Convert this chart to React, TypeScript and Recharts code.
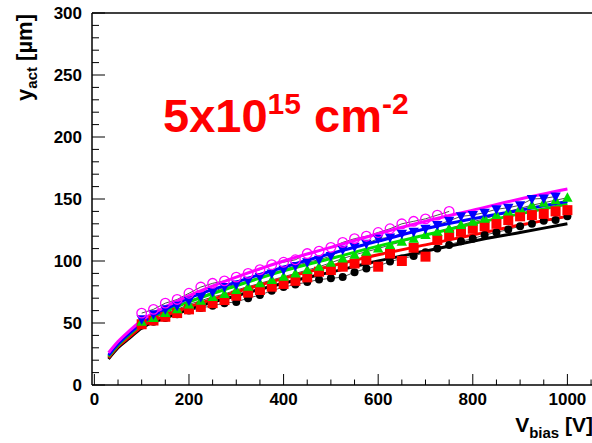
import React from "react";
import {
  ComposedChart,
  Scatter,
  Line,
  XAxis,
  YAxis,
  ReferenceLine,
} from "recharts";

// bias voltage points (V)
const vbias = [
  100, 125, 150, 175, 200, 225, 250, 275, 300, 325, 350, 375, 400, 425, 450, 475, 500, 525, 550,
  575, 600, 625, 650, 675, 700, 725, 750, 775, 800, 825, 850, 875, 900, 925, 950, 975, 1000,
];

// measured active depth (um), one array per series
const blackVals = [
  48, 51, 54, 57, 60, 62, 64, 66, 67, 70, 72.6, 76, 79, 81, 83, 85, 86, 87, 91, 94, 96, 99.5, 102,
  104, 107, 110, 113, 116, 118, 121, 123, 125.5, 128, 130, 132.5, 133, 136,
];
const redVals = [
  49, 52, 55, 58, 61, 63, 66, 68.5, 72, 74.5, 76.6, 79.3, 81.5, 84, 86.8, 91.4, 92.7, 95.4, 98, 101,
  95.4, 106, 100, 110.7, 103.5, 117, 121, 123.6, 126, 128, 130, 133, 136, 137, 138, 140, 141,
];
const greenVals = [
  51, 54, 58, 61, 65, 68, 71, 73.4, 76.6, 79.3, 82, 84.7, 87.3, 90, 92.7, 95.4, 98.6, 102, 105,
  107.5, 110, 113, 115.5, 118, 121, 123.6, 126, 129, 131.7, 134, 137, 140, 142.5, 145, 147, 149, 151,
];
const blueVals = [
  53, 57, 61, 64, 68, 71, 75, 79, 81, 84, 87, 90, 93, 96, 99, 101, 104, 109, 111.5, 114, 118, 119,
  122, 123.6, 126, 129, 132.5, 136, 137, 139, 141.7, 143, 145, 150, 150.5, 152, null,
];
const magentaVals = [
  58, 61, 66, 69, 74, 79, 82, 84, 87, 90, 93, 97, 99, 101, 106, 108, 111, 115, 118, 120, 123, 126,
  130, 132, 134, 137, 140, null, null, null, null, null, null, null, null, null, null,
];

// fitted curves
const fitV = [30, 50, 75, 100, 150, 200, 300, 400, 500, 600, 700, 800, 900, 1000];
const fitBlack = [21, 30, 38, 46, 54, 61, 72, 82, 91, 100, 108, 116, 123, 130];
const fitRed = [22, 31, 39, 47, 56, 63, 75, 86, 96, 105, 113, 121, 129, 136];
const fitGreen = [23, 32, 41, 49, 59, 67, 80, 92, 102, 112, 121, 130, 138, 146];
const fitBlue = [24, 33, 42, 50, 61, 70, 83, 95, 106, 116, 126, 134, 141, 148];
const fitMagenta = [26, 35, 44, 52, 63, 72, 87, 100, 111, 122, 132, 141, 150, 158];

const xTicks = Array.from({ length: 22 }, (_, i) => i * 50);
const yTicks = Array.from({ length: 31 }, (_, i) => i * 10);

const FONT = "'Liberation Sans', Arial, Helvetica, sans-serif";

const toPts = (vals: (number | null)[]) =>
  vbias.map((v, i) => ({ v, y: vals[i] })).filter((p) => p.y != null);
const toFit = (vals: number[]) => fitV.map((v, i) => ({ v, y: vals[i] }));

const BlackDot = ({ cx, cy }: any) => <circle cx={cx} cy={cy} r={4} fill="#000" />;
const RedSquare = ({ cx, cy }: any) => (
  <rect x={cx - 5} y={cy - 5} width={10} height={10} fill="#ff0000" />
);
const GreenUp = ({ cx, cy }: any) => (
  <polygon points={`${cx},${cy - 5.5} ${cx - 5.2},${cy + 4} ${cx + 5.2},${cy + 4}`} fill="#00dd00" />
);
const BlueDown = ({ cx, cy }: any) => (
  <polygon points={`${cx},${cy + 5.5} ${cx - 5.2},${cy - 4} ${cx + 5.2},${cy - 4}`} fill="#0000ff" />
);
const MagentaRing = ({ cx, cy }: any) => (
  <circle cx={cx} cy={cy} r={4.8} fill="none" stroke="#ff00ff" strokeWidth={1.3} />
);

const XTick = ({ x, y, payload }: any) => {
  const v = payload.value;
  const major = v % 200 === 0;
  return (
    <g>
      <line x1={x} x2={x} y1={y} y2={y - (major ? 11 : 5.5)} stroke="#000" strokeWidth={1} />
      {major && (
        <text x={x} y={y + 20} textAnchor="middle" fontFamily={FONT} fontWeight="bold" fontSize={17} fill="#000">
          {v}
        </text>
      )}
    </g>
  );
};

const YTick = ({ x, y, payload }: any) => {
  const v = payload.value;
  const major = v % 50 === 0;
  return (
    <g>
      <line x1={x} x2={x + (major ? 13 : 7)} y1={y} y2={y} stroke="#000" strokeWidth={1} />
      {major && (
        <text x={x - 10} y={y + 6} textAnchor="end" fontFamily={FONT} fontWeight="bold" fontSize={17} fill="#000">
          {v}
        </text>
      )}
    </g>
  );
};

// thin graph lines joining the measured points
const joins = [toPts(blackVals), toPts(greenVals), toPts(blueVals), toPts(magentaVals)];

const fits = [
  { data: toFit(fitBlack), color: "#000000" },
  { data: toFit(fitRed), color: "#ff0000" },
  { data: toFit(fitGreen), color: "#00dd00" },
  { data: toFit(fitBlue), color: "#0000ff" },
  { data: toFit(fitMagenta), color: "#ff00ff" },
];

export default function App() {
  return (
    <div
      style={{
        position: "absolute",
        left: 0,
        top: 0,
        width: 592,
        height: 443,
        overflow: "hidden",
        background: "#fff",
      }}
    >
      <ComposedChart width={600} height={443} margin={{ top: 13, right: 8, bottom: 28, left: 32 }}>
        <XAxis
          dataKey="v"
          type="number"
          domain={[-5, 1052]}
          ticks={xTicks}
          tick={<XTick />}
          tickSize={0}
          tickMargin={0}
          tickLine={false}
          height={30}
          interval={0}
          allowDuplicatedCategory={false}
          axisLine={{ stroke: "#000", strokeWidth: 1.5 }}
        />
        <YAxis
          dataKey="y"
          type="number"
          domain={[0, 300]}
          ticks={yTicks}
          tick={<YTick />}
          tickSize={0}
          tickMargin={0}
          tickLine={false}
          width={60}
          interval={0}
          axisLine={{ stroke: "#000", strokeWidth: 1.5 }}
        />
        <ReferenceLine y={300} stroke="#000" strokeWidth={1.5} ifOverflow="visible" />
        {joins.map((d, i) => (
          <Line
            key={"j" + i}
            data={d}
            dataKey="y"
            type="linear"
            stroke="#222"
            strokeWidth={0.8}
            dot={false}
            activeDot={false}
            isAnimationActive={false}
          />
        ))}
        <Scatter data={toPts(blackVals)} dataKey="y" shape={<BlackDot />} isAnimationActive={false} />
        <Scatter data={toPts(redVals)} dataKey="y" shape={<RedSquare />} isAnimationActive={false} />
        <Scatter data={toPts(greenVals)} dataKey="y" shape={<GreenUp />} isAnimationActive={false} />
        <Scatter data={toPts(blueVals)} dataKey="y" shape={<BlueDown />} isAnimationActive={false} />
        <Scatter data={toPts(magentaVals)} dataKey="y" shape={<MagentaRing />} isAnimationActive={false} />
        {fits.map((f, i) => (
          <Line
            key={i}
            data={f.data}
            dataKey="y"
            type="monotone"
            stroke={f.color}
            strokeWidth={3}
            dot={false}
            activeDot={false}
            isAnimationActive={false}
          />
        ))}
      </ComposedChart>
      <svg
        width={592}
        height={443}
        style={{ position: "absolute", left: 0, top: 0, pointerEvents: "none" }}
      >
        <text x={163} y={132} fontFamily={FONT} fontWeight="bold" fontSize={47} fill="#ff0000">
          5x10
          <tspan fontSize={30} dy={-18}>15</tspan>
          <tspan fontSize={47} dy={18}> cm</tspan>
          <tspan fontSize={30} dy={-18}>-2</tspan>
        </text>
        <text
          transform="rotate(-90)"
          x={-14}
          y={32}
          textAnchor="end"
          fontFamily={FONT}
          fontWeight="bold"
          fontSize={22}
          fill="#000"
        >
          y<tspan fontSize={15} dy={5}>act</tspan>
          <tspan dy={-5}> [µm]</tspan>
        </text>
        <text x={593} y={432} textAnchor="end" fontFamily={FONT} fontWeight="bold" fontSize={21} fill="#000">
          V<tspan fontSize={15} dy={6}>bias</tspan>
          <tspan dy={-6}> [V]</tspan>
        </text>
      </svg>
    </div>
  );
}
